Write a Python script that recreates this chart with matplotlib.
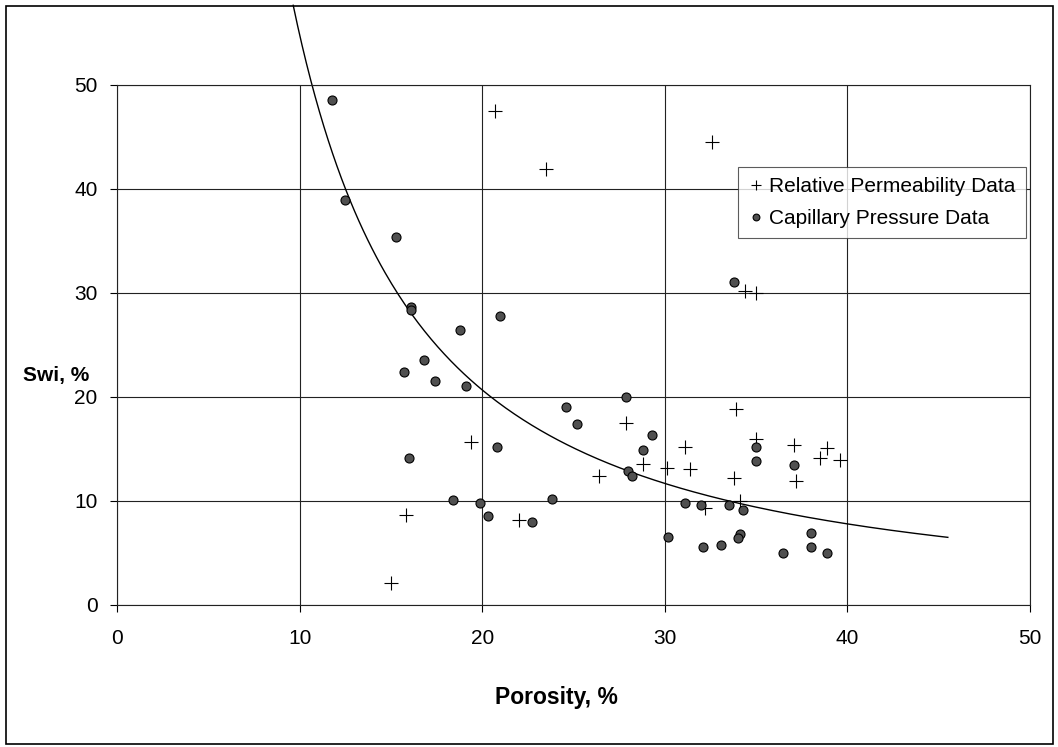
import matplotlib.pyplot as plt
import matplotlib.patches as mpatches
import numpy as np

plt.rcParams['font.family'] = ['Liberation Sans', 'DejaVu Sans']

# Relative permeability data (porosity %, Swi %)
rp_phi = [20.7, 23.5, 32.6, 34.4, 35.0, 19.4, 15.8, 15.0, 22.0, 26.4, 27.9, 28.8,
          30.1, 31.1, 31.4, 32.2, 33.9, 33.8, 34.1, 35.0, 37.1, 37.2, 38.5, 38.9, 39.6]
rp_swi = [47.5, 41.9, 44.5, 30.2, 30.0, 15.7, 8.7, 2.1, 8.2, 12.4, 17.5, 13.6,
          13.2, 15.2, 13.1, 9.3, 18.8, 12.2, 10.0, 16.0, 15.4, 11.9, 14.1, 15.1, 13.9]

# Capillary pressure data (porosity %, Swi %)
cp_phi = [11.8, 12.5, 15.3, 16.1, 16.1, 21.0, 18.8, 16.8, 15.7, 17.4, 19.1, 20.8,
          16.0, 18.4, 19.9, 20.3, 22.7, 23.8, 27.9, 24.6, 25.2, 29.3, 28.8, 28.0,
          28.2, 33.8, 35.0, 35.0, 37.1, 31.1, 32.0, 33.5, 34.3, 30.2, 32.1, 33.1,
          34.1, 34.0, 36.5, 38.0, 38.0, 38.9]
cp_swi = [48.6, 38.9, 35.4, 28.7, 28.4, 27.8, 26.4, 23.6, 22.4, 21.5, 21.1, 15.2,
          14.1, 10.1, 9.8, 8.6, 8.0, 10.2, 20.0, 19.0, 17.4, 16.3, 14.9, 12.9,
          12.4, 31.1, 15.2, 13.8, 13.5, 9.8, 9.6, 9.6, 9.1, 6.5, 5.6, 5.8,
          6.8, 6.4, 5.0, 6.9, 5.6, 5.0]

# power-law trend: Swi = a * phi^b
trend_a = 1400.0
trend_b = -1.407
trend_range = (9.65, 45.5)

ticks = [0, 10, 20, 30, 40, 50]

fig = plt.figure(figsize=(10.58, 7.47), dpi=100)
ax = fig.add_axes([117 / 1058, 1 - 605 / 747, 913 / 1058, 520 / 747])

# outer frame around the whole chart
fig.patches.append(mpatches.Rectangle((6 / 1058, 3 / 747), 1047 / 1058, 738 / 747,
                                      transform=fig.transFigure, fill=False,
                                      edgecolor='black', linewidth=1.2))

ax.set_xlim(0, 50)
ax.set_ylim(0, 50)
ax.set_xticks(ticks)
ax.set_yticks(ticks)
ax.grid(True, color='#222222', linewidth=0.8)
ax.set_axisbelow(True)
for s in ax.spines.values():
    s.set_color('#222222')
    s.set_linewidth(0.8)
ax.tick_params(direction='out', length=5, width=0.8, labelsize=15)
ax.tick_params(axis='x', pad=12)
ax.tick_params(axis='y', pad=9)

phi = np.linspace(trend_range[0], trend_range[1], 300)
ax.plot(phi, trend_a * phi ** trend_b, color='black', linewidth=1.0, clip_on=False,
        zorder=2)

ax.plot(rp_phi, rp_swi, linestyle='none', marker='+', markersize=10,
        markeredgewidth=0.8, color='black', label='Relative Permeability Data', zorder=3)
ax.plot(cp_phi, cp_swi, linestyle='none', marker='o', markersize=6.5,
        markerfacecolor='#505050', markeredgecolor='black', markeredgewidth=0.8,
        label='Capillary Pressure Data', zorder=3)

ax.set_xlabel('Porosity, %', fontsize=16.5, fontweight='bold')
ax.xaxis.set_label_coords((556 - 117) / 913, -(686 - 605) / 520)
ax.set_ylabel('Swi, %', fontsize=15, fontweight='bold', rotation=0, ha='left', va='center')
ax.yaxis.set_label_coords(-(117 - 23) / 913, (605 - 376) / 520)

leg = ax.legend(loc='upper left', bbox_to_anchor=((738 - 117) / 913, (605 - 167) / 520),
                borderaxespad=0, fontsize=15, frameon=True, fancybox=False,
                handlelength=0.7, handletextpad=0.3, labelspacing=0.6,
                borderpad=0.5, markerscale=0.75)
leg.get_frame().set_edgecolor('#333333')
leg.get_frame().set_linewidth(0.8)

fig.savefig('out.png', dpi=100)
